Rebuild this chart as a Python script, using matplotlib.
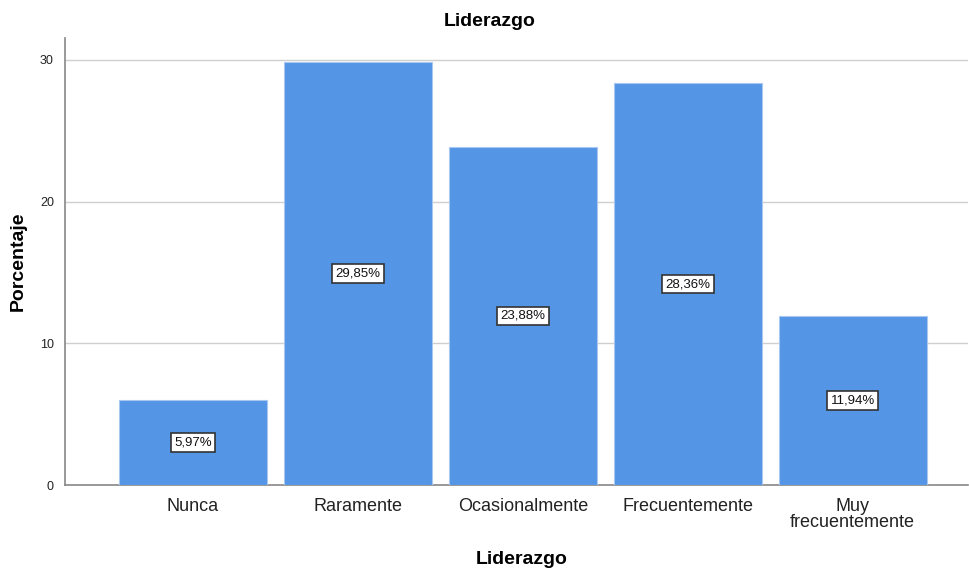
import matplotlib
matplotlib.use('Agg')
import matplotlib.pyplot as plt
import numpy as np

plt.rcParams['font.family'] = ['Liberation Sans', 'DejaVu Sans']

categories = ['Nunca', 'Raramente', 'Ocasionalmente', 'Frecuentemente', 'Muy\nfrecuentemente']
percentages = [5.97, 29.85, 23.88, 28.36, 11.94]

fig = plt.figure(figsize=(9.69, 5.69), dpi=100)
ax = fig.add_axes([0.0671, 0.1476, 0.932, 0.7856])

x = np.arange(len(categories))
ax.bar(x, percentages, width=0.897, color='#5495e5', edgecolor='#a9c8f0',
       linewidth=0.8, zorder=3)

for xi, val in zip(x, percentages):
    label = f'{val:.2f}%'.replace('.', ',')
    ax.text(xi, val / 2, label, ha='center', va='center', fontsize=9.5,
            color='#111111', zorder=4,
            bbox=dict(boxstyle='square,pad=0.25', facecolor='white',
                      edgecolor='#333333', linewidth=1.2))

ax.set_xlim(-0.776, 4.70)
ax.set_ylim(0, 31.55)
ax.set_yticks([0, 10, 20, 30])
ax.set_xticks(x)
ax.set_xticklabels(categories, fontsize=13, color='#222222', linespacing=0.95)
ax.tick_params(axis='y', labelsize=9, length=0, pad=8, colors='#222222')
ax.tick_params(axis='x', length=0, pad=9)

ax.grid(axis='y', color='#cfcfcf', linewidth=1.0, zorder=0)
ax.set_axisbelow(True)
for side in ['top', 'right']:
    ax.spines[side].set_visible(False)
for side in ['left', 'bottom']:
    ax.spines[side].set_color('#888888')
    ax.spines[side].set_linewidth(1.2)

fig.text(490 / 969, 1 - 22 / 569, 'Liderazgo', fontsize=14, fontweight='bold',
         ha='center', va='center')
fig.text(18 / 969, 1 - 261 / 569, 'Porcentaje', fontsize=14, fontweight='bold',
         ha='center', va='center', rotation=90)
fig.text(522 / 969, 1 - 559 / 569, 'Liderazgo', fontsize=14, fontweight='bold',
         ha='center', va='center')

fig.savefig('out.png', dpi=100)
